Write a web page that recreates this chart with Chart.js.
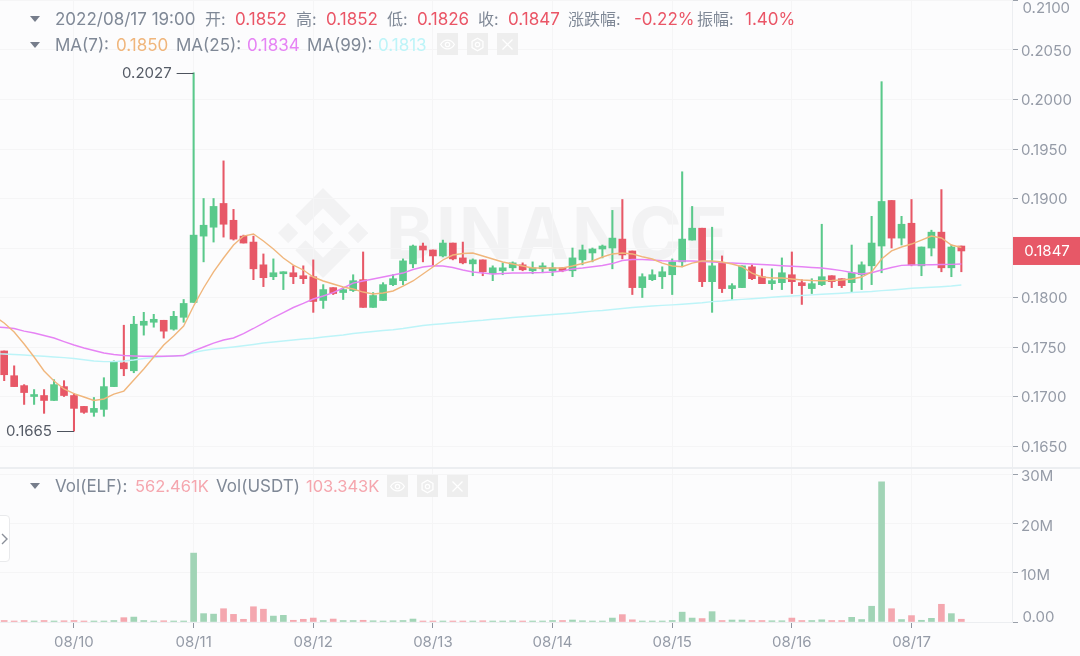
<!DOCTYPE html>
<html>
<head>
<meta charset="utf-8">
<title>ELF/USDT</title>
<script src="https://cdn.jsdelivr.net/npm/chart.js@4"></script>
<style>
  html, body { margin: 0; padding: 0; background: #fcfcfd; overflow: hidden; }
  #wrap { position: relative; width: 1080px; height: 656px; font-family: Inter, "Noto Sans CJK SC", sans-serif; font-size: 17px; color: #7f8896; }
  canvas { position: absolute; left: 0; }
  .row { position: absolute; left: 55px; white-space: nowrap; line-height: 20px; }
  .row span { position: absolute; top: 0; }
  .cjk { font-size: 16px; }
  .tri { position: absolute; left: 30px; width: 0; height: 0; border-left: 5px solid transparent; border-right: 5px solid transparent; border-top: 6px solid #767d8b; }
  .red { color: #ea5566; }
  .ma7 { color: #f0b67c; }
  .ma25 { color: #e683f4; }
  .ma99 { color: #bdf4f8; }
  .volval { color: #f5a6ae; font-size: 16.5px; }
  .btn { position: absolute; width: 21px; height: 22px; background: #eeeeee; }
  .btn svg { position: absolute; left: 3px; top: 3.5px; }
  #wm { position: absolute; left: 386px; top: 188px; font-size: 71px; font-weight: 700; color: #f2f2f3; letter-spacing: 3px; line-height: 90px; }
  #logo { position: absolute; left: 278px; top: 188px; }
  #sep { position: absolute; left: 0; top: 466.5px; width: 1080px; height: 2px; background: #eceef1; }
  #tab { position: absolute; left: -6px; top: 515px; width: 14px; height: 45px; background: #fff; border: 1px solid #e9eaec; border-radius: 4px; }
  #tab svg { position: absolute; left: 6px; top: 17px; }
</style>
</head>
<body>
<div id="wrap">
  <svg id="logo" width="90" height="90" viewBox="0 0 126.61 126.61" fill="#f2f2f3">
    <path d="M38.73 53.2l24.59-24.58 24.6 24.6 14.3-14.31L63.32 0 24.43 38.9z"/>
    <path d="M0 63.31l14.3-14.31 14.31 14.31-14.31 14.3z"/>
    <path d="M38.73 73.41l24.59 24.59 24.6-24.6 14.31 14.29-38.9 38.91-38.91-38.88-.02-.02z"/>
    <path d="M98.28 63.31l14.3-14.31 14.31 14.31-14.31 14.3z"/>
    <path d="M77.83 63.3L63.32 48.78 52.59 59.51l-1.24 1.23-2.54 2.54 14.51 14.5 14.51-14.47z"/>
  </svg>
  <div id="wm">BINANCE</div>

  <canvas id="priceChart" width="1080" height="467" style="top:0"></canvas>
  <canvas id="volChart" width="1080" height="189" style="top:467px"></canvas>
  <div id="sep"></div>

  <div class="tri" style="top:16px"></div>
  <div class="row" style="top:9px">
    <span style="left:0">2022/08/17 19:00</span>
    <span class="cjk" style="left:150px">开:</span><span class="red" style="left:180px">0.1852</span>
    <span class="cjk" style="left:241px">高:</span><span class="red" style="left:271px">0.1852</span>
    <span class="cjk" style="left:332px">低:</span><span class="red" style="left:362px">0.1826</span>
    <span class="cjk" style="left:423px">收:</span><span class="red" style="left:453px">0.1847</span>
    <span class="cjk" style="left:513px">涨跌幅:</span><span class="red" style="left:579px">-0.22%</span>
    <span class="cjk" style="left:642px">振幅:</span><span class="red" style="left:690px">1.40%</span>
  </div>

  <div class="tri" style="top:42px"></div>
  <div class="row" style="top:35px">
    <span style="left:0">MA(7):</span><span class="ma7" style="left:61px">0.1850</span>
    <span style="left:121px">MA(25):</span><span class="ma25" style="left:192px">0.1834</span>
    <span style="left:252px">MA(99):</span><span class="ma99" style="left:323px">0.1813</span>
  </div>
  <div class="btn" style="left:437px;top:33px"><svg width="15" height="15" viewBox="0 0 24 24" fill="none" stroke="#fff" stroke-width="2"><path d="M1 12s4-7 11-7 11 7 11 7-4 7-11 7-11-7-11-7z"/><circle cx="12" cy="12" r="3.5"/></svg></div>
  <div class="btn" style="left:467px;top:33px"><svg width="15" height="15" viewBox="0 0 24 24" fill="none" stroke="#fff" stroke-width="2"><path d="M12 2l8.7 5v10L12 22l-8.7-5V7z"/><circle cx="12" cy="12" r="3.5"/></svg></div>
  <div class="btn" style="left:497px;top:33px"><svg width="15" height="15" viewBox="0 0 24 24" fill="none" stroke="#fff" stroke-width="2"><path d="M4 4l16 16M20 4L4 20"/></svg></div>

  <div class="tri" style="top:483px"></div>
  <div class="row" style="top:476px">
    <span style="left:0">Vol(ELF):</span><span class="volval" style="left:80px">562.461K</span>
    <span style="left:161px">Vol(USDT)</span><span class="volval" style="left:251px">103.343K</span>
  </div>
  <div class="btn" style="left:387px;top:475px"><svg width="15" height="15" viewBox="0 0 24 24" fill="none" stroke="#fff" stroke-width="2"><path d="M1 12s4-7 11-7 11 7 11 7-4 7-11 7-11-7-11-7z"/><circle cx="12" cy="12" r="3.5"/></svg></div>
  <div class="btn" style="left:417px;top:475px"><svg width="15" height="15" viewBox="0 0 24 24" fill="none" stroke="#fff" stroke-width="2"><path d="M12 2l8.7 5v10L12 22l-8.7-5V7z"/><circle cx="12" cy="12" r="3.5"/></svg></div>
  <div class="btn" style="left:447px;top:475px"><svg width="15" height="15" viewBox="0 0 24 24" fill="none" stroke="#fff" stroke-width="2"><path d="M4 4l16 16M20 4L4 20"/></svg></div>

  <div id="tab"><svg width="8" height="12" viewBox="0 0 8 12" fill="none" stroke="#8a8f99" stroke-width="1.4"><path d="M1 1l5 5-5 5"/></svg></div>
</div>

<script>
// 2h candles, 08/09 22:00 onward
const opens = [
  0.1746,0.1721,0.1711,0.1700,0.1701,0.1696,0.1710,0.1701,0.1690,0.1684,
  0.1687,0.1710,0.1734,0.1726,0.1772,0.1775,0.1777,0.1768,0.1780,0.1795,
  0.1862,0.1871,0.1895,0.1878,0.1862,0.1856,0.1833,0.1821,0.1824,0.1825,
  0.1822,0.1821,0.1797,0.1810,0.1805,0.1807,0.1818,0.1790,0.1797,0.1813,
  0.1817,0.1834,0.1852,0.1848,0.1842,0.1855,0.1840,0.1834,0.1838,0.1824,
  0.1827,0.1830,0.1833,0.1827,0.1829,0.1827,0.1830,0.1827,0.1838,0.1845,
  0.1849,0.1850,0.1859,0.1847,0.1810,0.1818,0.1821,0.1823,0.1836,0.1858,
  0.1870,0.1816,0.1835,0.1809,0.1810,0.1831,0.1821,0.1814,0.1815,0.1823,
  0.1815,0.1809,0.1813,0.1822,0.1819,0.1815,0.1823,0.1832,0.1852,0.1898,
  0.1860,0.1875,0.1832,0.1850,0.1866,0.1830,0.1852
];
const highs = [
  0.1746,0.1731,0.1712,0.1707,0.1707,0.1717,0.1716,0.1703,0.1690,0.1699,
  0.1719,0.1736,0.1772,0.1781,0.1785,0.1783,0.1777,0.1786,0.1798,0.2027,
  0.1900,0.1900,0.1938,0.1889,0.1863,0.1862,0.1844,0.1839,0.1826,0.1832,
  0.1832,0.1838,0.1813,0.1810,0.1810,0.1823,0.1846,0.1805,0.1815,0.1823,
  0.1839,0.1853,0.1855,0.1848,0.1858,0.1855,0.1856,0.1839,0.1838,0.1832,
  0.1835,0.1836,0.1835,0.1836,0.1835,0.1835,0.1830,0.1850,0.1853,0.1850,
  0.1853,0.1888,0.1899,0.1847,0.1824,0.1828,0.1831,0.1839,0.1927,0.1892,
  0.1870,0.1871,0.1842,0.1814,0.1832,0.1833,0.1829,0.1829,0.1840,0.1846,
  0.1818,0.1819,0.1874,0.1822,0.1819,0.1853,0.1836,0.1882,0.2018,0.1898,
  0.1882,0.1899,0.1851,0.1868,0.1909,0.1853,0.1852
];
const lows = [
  0.1716,0.1710,0.1692,0.1692,0.1683,0.1696,0.1700,0.1665,0.1683,0.1680,
  0.1680,0.1710,0.1721,0.1724,0.1762,0.1770,0.1759,0.1767,0.1775,0.1795,
  0.1836,0.1856,0.1861,0.1858,0.1855,0.1818,0.1811,0.1818,0.1808,0.1814,
  0.1814,0.1785,0.1789,0.1803,0.1798,0.1806,0.1790,0.1790,0.1797,0.1812,
  0.1813,0.1830,0.1836,0.1832,0.1841,0.1838,0.1834,0.1822,0.1822,0.1817,
  0.1823,0.1827,0.1827,0.1824,0.1825,0.1822,0.1826,0.1821,0.1833,0.1836,
  0.1840,0.1829,0.1839,0.1803,0.1800,0.1817,0.1809,0.1803,0.1831,0.1858,
  0.1811,0.1785,0.1805,0.1798,0.1810,0.1818,0.1814,0.1808,0.1808,0.1804,
  0.1793,0.1804,0.1812,0.1810,0.1810,0.1805,0.1808,0.1813,0.1825,0.1850,
  0.1853,0.1832,0.1822,0.1842,0.1826,0.1821,0.1826
];
const closes = [
  0.1722,0.1710,0.1704,0.1702,0.1696,0.1712,0.1701,0.1688,0.1684,0.1688,
  0.1710,0.1735,0.1728,0.1773,0.1776,0.1778,0.1766,0.1781,0.1794,0.1863,
  0.1873,0.1892,0.1874,0.1859,0.1855,0.1829,0.1820,0.1825,0.1826,0.1821,
  0.1819,0.1796,0.1808,0.1804,0.1808,0.1817,0.1790,0.1802,0.1813,0.1819,
  0.1837,0.1852,0.1848,0.1842,0.1855,0.1839,0.1835,0.1838,0.1826,0.1830,
  0.1830,0.1835,0.1828,0.1830,0.1832,0.1830,0.1827,0.1840,0.1848,0.1849,
  0.1852,0.1860,0.1843,0.1810,0.1821,0.1823,0.1826,0.1836,0.1859,0.1870,
  0.1816,0.1832,0.1809,0.1812,0.1832,0.1819,0.1814,0.1817,0.1825,0.1816,
  0.1812,0.1814,0.1821,0.1816,0.1812,0.1825,0.1833,0.1855,0.1897,0.1860,
  0.1874,0.1833,0.1851,0.1866,0.1830,0.1851,0.1847
];
// MA lines start one candle before the first visible one
const ma7 = [
  0.17813,
  0.17742,0.17651,0.17530,0.17399,0.17258,0.17156,0.17076,0.17030,0.16995,0.16960,
  0.16975,0.17025,0.17055,0.17167,0.17278,0.17399,0.17520,0.17611,0.17712,0.17914,
  0.18096,0.18258,0.18399,0.18530,0.18621,0.18641,0.18571,0.18490,0.18399,0.18328,
  0.18278,0.18207,0.18167,0.18136,0.18106,0.18086,0.18055,0.18035,0.18045,0.18066,
  0.18116,0.18167,0.18237,0.18308,0.18379,0.18429,0.18444,0.18449,0.18419,0.18389,
  0.18359,0.18338,0.18318,0.18298,0.18298,0.18298,0.18298,0.18318,0.18343,0.18369,
  0.18409,0.18440,0.18449,0.18440,0.18412,0.18389,0.18348,0.18318,0.18311,0.18348,
  0.18369,0.18369,0.18359,0.18338,0.18311,0.18247,0.18207,0.18197,0.18197,0.18187,
  0.18177,0.18172,0.18170,0.18172,0.18177,0.18187,0.18207,0.18258,0.18389,0.18470,
  0.18510,0.18540,0.18580,0.18621,0.18601,0.18530,0.18505
];
const ma25 = [
  0.17702,
  0.17697,0.17687,0.17661,0.17641,0.17616,0.17591,0.17555,0.17520,0.17490,0.17465,
  0.17439,0.17424,0.17414,0.17409,0.17406,0.17406,0.17406,0.17409,0.17414,0.17460,
  0.17500,0.17540,0.17571,0.17591,0.17636,0.17687,0.17742,0.17798,0.17848,0.17899,
  0.17940,0.17985,0.18015,0.18050,0.18096,0.18146,0.18167,0.18187,0.18207,0.18227,
  0.18247,0.18283,0.18308,0.18321,0.18318,0.18303,0.18278,0.18258,0.18247,0.18237,
  0.18242,0.18247,0.18247,0.18250,0.18252,0.18258,0.18268,0.18288,0.18298,0.18311,
  0.18323,0.18343,0.18374,0.18384,0.18384,0.18379,0.18372,0.18369,0.18369,0.18369,
  0.18364,0.18359,0.18352,0.18348,0.18343,0.18338,0.18333,0.18328,0.18321,0.18315,
  0.18310,0.18303,0.18298,0.18285,0.18271,0.18252,0.18237,0.18250,0.18278,0.18303,
  0.18325,0.18328,0.18330,0.18331,0.18333,0.18335,0.18338
];
const ma99 = [
  0.17432,
  0.17429,0.17424,0.17419,0.17412,0.17406,0.17399,0.17393,0.17384,0.17372,0.17359,
  0.17352,0.17352,0.17359,0.17369,0.17384,0.17394,0.17404,0.17409,0.17414,0.17444,
  0.17465,0.17480,0.17490,0.17500,0.17512,0.17525,0.17540,0.17550,0.17560,0.17571,
  0.17581,0.17589,0.17601,0.17611,0.17621,0.17636,0.17646,0.17657,0.17667,0.17675,
  0.17687,0.17702,0.17717,0.17727,0.17735,0.17745,0.17752,0.17763,0.17770,0.17780,
  0.17788,0.17798,0.17806,0.17813,0.17821,0.17828,0.17836,0.17843,0.17853,0.17862,
  0.17869,0.17879,0.17889,0.17899,0.17907,0.17914,0.17920,0.17926,0.17932,0.17939,
  0.17947,0.17958,0.17965,0.17975,0.17981,0.17988,0.17995,0.18002,0.18010,0.18015,
  0.18021,0.18027,0.18033,0.18038,0.18043,0.18050,0.18055,0.18060,0.18069,0.18076,
  0.18084,0.18093,0.18099,0.18104,0.18109,0.18116,0.18126
];
// volume in millions
const volumes = [
  0.3,0.2,0.3,0.2,0.3,0.2,0.25,0.3,0.2,0.2,
  0.2,0.3,0.88,1.0,0.3,0.2,0.25,0.2,0.2,14.0,
  1.7,1.6,2.7,1.55,0.55,3.1,2.6,1.2,1.35,0.35,
  0.55,0.8,0.3,0.6,0.3,0.3,0.35,0.25,0.2,0.25,
  0.3,0.6,0.2,0.2,0.2,0.2,0.2,0.2,0.25,0.2,
  0.2,0.25,0.2,0.2,0.2,0.3,0.3,0.4,0.25,0.2,
  0.2,0.8,1.5,0.45,0.2,0.2,0.2,0.3,2.0,0.8,
  0.7,2.1,0.3,0.4,0.4,0.3,0.3,0.25,0.25,0.8,
  0.3,0.3,0.45,0.3,0.3,0.95,0.5,3.2,28.5,2.7,
  0.5,1.3,0.35,0.75,3.6,1.7,0.56
];
const dateTicks = [7, 19, 31, 43, 55, 67, 79, 91];
const dateLabels = ['08/10', '08/11', '08/12', '08/13', '08/14', '08/15', '08/16', '08/17'];
const priceTicks = [0.165, 0.17, 0.175, 0.18, 0.185, 0.19, 0.195, 0.2, 0.205, 0.21];
const volTicks = [0, 10, 20, 30];

const GREEN = '#5ac98b';
const RED = '#e75867';
const GRID = '#f5f5f6';
const EDGE = '#eceef1';
const TICK = '#9aa0aa';
const LABEL = '#959ba7';
const FONT = { family: 'Inter, sans-serif', size: 15 };
const XMIN = -0.42, XMAX = 101.08;

const upColor = closes.map((c, i) => c >= opens[i]);
const candleColors = upColor.map(up => up ? GREEN : RED);
const volColors = upColor.map(up => up ? '#a1d4b6' : '#f4a7af');

// the panel has to fill the canvas exactly, so drop the padding Chart.js keeps for edge labels
function noPadding(s) {
  s.paddingTop = 0;
  s.paddingBottom = 0;
  s.paddingLeft = 0;
  s.paddingRight = 0;
}

const xAxis = (withLabels, height) => ({
  type: 'linear',
  offset: false,
  min: XMIN,
  max: XMAX,
  afterBuildTicks: s => { s.ticks = dateTicks.map(v => ({ value: v })); },
  afterFit: s => { s.height = height; noPadding(s); },
  border: { display: withLabels, color: EDGE },
  grid: { offset: false, color: GRID, tickColor: '#8f95a0', tickLength: withLabels ? 6 : 0, drawTicks: withLabels },
  ticks: {
    display: withLabels,
    autoSkip: false,
    maxRotation: 0,
    padding: 5,
    color: LABEL,
    font: FONT,
    callback: v => dateLabels[dateTicks.indexOf(v)]
  }
});

const yAxisBase = {
  position: 'right',
  afterFit: s => { s.width = 68; noPadding(s); },
  border: { display: true, color: EDGE },
  grid: { color: GRID, tickColor: TICK, tickLength: 6 },
};

// labels that sit on the panel edge are nudged inside, same as the exchange does it
function drawEdgeLabel(ctx, text, x, y) {
  ctx.save();
  ctx.font = '15px ' + FONT.family;
  ctx.fillStyle = LABEL;
  ctx.textAlign = 'left';
  ctx.textBaseline = 'middle';
  ctx.fillText(text, x, y);
  ctx.restore();
}

const priceOverlay = {
  id: 'priceOverlay',
  afterDraw(chart) {
    const { ctx, scales } = chart;
    const x = scales.x, y = scales.y;
    ctx.save();
    ctx.font = '15px ' + FONT.family;
    ctx.textBaseline = 'middle';
    ctx.textAlign = 'right';
    // highest and lowest markers
    [[19, highs[19]], [7, lows[7]]].forEach(([i, val]) => {
      const px = x.getPixelForValue(i), py = y.getPixelForValue(val);
      ctx.strokeStyle = '#4d535e';
      ctx.lineWidth = 1;
      ctx.beginPath();
      ctx.moveTo(px - 17, Math.round(py) + 0.5);
      ctx.lineTo(px, Math.round(py) + 0.5);
      ctx.stroke();
      ctx.fillStyle = '#555b66';
      ctx.fillText(val.toFixed(4), px - 22, py + 0.5);
    });
    // last price tag
    const last = closes[closes.length - 1];
    const ty = y.getPixelForValue(last);
    ctx.fillStyle = '#e75867';
    ctx.fillRect(x.right + 1, ty - 14, 68, 28);
    ctx.fillStyle = '#fff';
    ctx.textAlign = 'center';
    ctx.fillText(last.toFixed(4), x.right + 35, ty + 0.5);
    ctx.restore();
    drawEdgeLabel(ctx, '0.2100', x.right + 10.5, 8.5);
  }
};

const priceChart = new Chart(document.getElementById('priceChart'), {
  type: 'bar',
  data: {
    datasets: [
      { type: 'line', label: 'MA(99)', data: ma99.map((v, i) => ({ x: i - 1, y: v })), borderColor: '#bdf4f8', borderWidth: 1.4, pointRadius: 0, order: 3 },
      { type: 'line', label: 'MA(25)', data: ma25.map((v, i) => ({ x: i - 1, y: v })), borderColor: '#e683f4', borderWidth: 1.4, pointRadius: 0, order: 2 },
      { type: 'line', label: 'MA(7)', data: ma7.map((v, i) => ({ x: i - 1, y: v })), borderColor: '#f0b67c', borderWidth: 1.4, pointRadius: 0, order: 1 },
      { label: 'wick', data: highs.map((h, i) => ({ x: i, y: [lows[i], h] })), backgroundColor: candleColors, barThickness: 1.4, grouped: false, order: 5 },
      { label: 'body', data: opens.map((o, i) => ({ x: i, y: [o, closes[i]] })), backgroundColor: candleColors, barThickness: 7, grouped: false, order: 4 }
    ]
  },
  options: {
    responsive: false,
    animation: false,
    layout: { autoPadding: false },
    plugins: { legend: { display: false }, tooltip: { enabled: false } },
    scales: {
      x: xAxis(false, 0),
      y: Object.assign({}, yAxisBase, {
        min: 0.16288,
        max: 0.21005,
        afterBuildTicks: s => { s.ticks = priceTicks.map(v => ({ value: v })); },
        ticks: { padding: 3, labelOffset: 1, color: LABEL, font: FONT, callback: v => v === 0.21 ? '' : v.toFixed(4) }
      })
    }
  },
  plugins: [priceOverlay]
});

const volOverlay = {
  id: 'volOverlay',
  afterDraw(chart) {
    drawEdgeLabel(chart.ctx, '0.00', chart.scales.x.right + 10.5, chart.scales.y.getPixelForValue(0) - 5);
  }
};

const volChart = new Chart(document.getElementById('volChart'), {
  type: 'bar',
  data: {
    datasets: [
      { label: 'Vol', data: volumes.map((v, i) => ({ x: i, y: v })), backgroundColor: volColors, barThickness: 6 }
    ]
  },
  options: {
    responsive: false,
    animation: false,
    layout: { autoPadding: false },
    plugins: { legend: { display: false }, tooltip: { enabled: false } },
    scales: {
      x: xAxis(true, 34),
      y: Object.assign({}, yAxisBase, {
        min: 0,
        max: 31.5,
        afterBuildTicks: s => { s.ticks = volTicks.map(v => ({ value: v })); },
        ticks: { padding: 3, labelOffset: 2.5, color: LABEL, font: FONT, callback: v => v === 0 ? '' : v + 'M' }
      })
    }
  },
  plugins: [volOverlay]
});
</script>
</body>
</html>
